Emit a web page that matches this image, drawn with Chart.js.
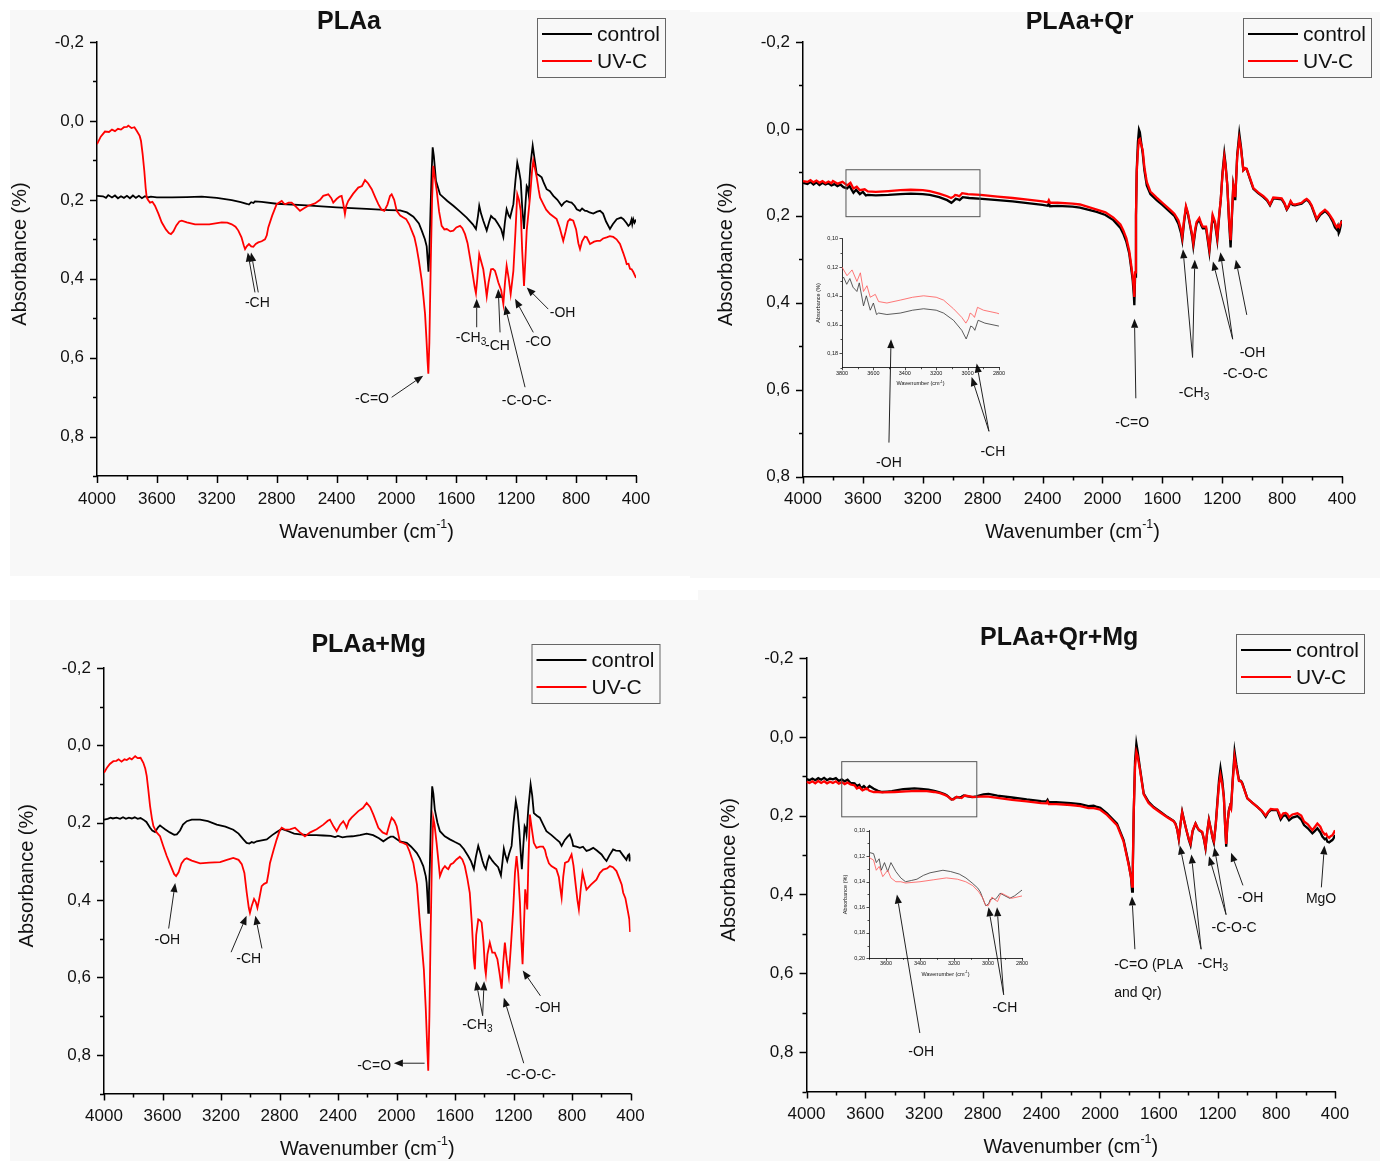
<!DOCTYPE html>
<html>
<head>
<meta charset="utf-8">
<script src="https://cdn.jsdelivr.net/npm/chart.js@4.4.1/dist/chart.umd.min.js"></script>
<style>
  html, body { margin: 0; padding: 0; background: #fff; }
  body { position: relative; width: 1380px; height: 1161px; overflow: hidden; }
  .panel { position: absolute; background: #f8f8f8; }
  canvas { position: absolute; }
</style>
</head>
<body>
<div class="panel" style="left:10px;top:10px;width:680px;height:566px"></div>
<div class="panel" style="left:690px;top:12px;width:690px;height:566px"></div>
<div class="panel" style="left:10px;top:600px;width:688px;height:561px"></div>
<div class="panel" style="left:698px;top:590px;width:682px;height:571px"></div>
<canvas id="c1"></canvas>
<canvas id="c2"></canvas>
<canvas id="c3"></canvas>
<canvas id="c4"></canvas>
<canvas id="i2"></canvas>
<canvas id="i4"></canvas>
<script>
// ---- spectra: [wavenumber (cm-1), absorbance] ----
const p1Control = [[4000,0.190],[3960,0.191],[3940,0.195],[3925,0.188],[3900,0.194],[3880,0.189],[3860,0.196],[3840,0.191],[3820,0.195],[3800,0.190],[3780,0.196],[3760,0.189],[3740,0.195],[3720,0.190],[3700,0.196],[3680,0.191],[3660,0.194],[3640,0.192],[3600,0.194],[3500,0.194],[3400,0.193],[3300,0.192],[3200,0.195],[3100,0.201],[3040,0.206],[3000,0.210],[2985,0.212],[2970,0.206],[2955,0.208],[2945,0.204],[2900,0.205],[2800,0.210],[2600,0.214],[2400,0.219],[2200,0.223],[2050,0.226],[1976,0.227],[1930,0.232],[1887,0.243],[1850,0.260],[1831,0.278],[1810,0.300],[1798,0.318],[1790,0.360],[1786,0.382],[1780,0.330],[1772,0.220],[1765,0.130],[1758,0.067],[1750,0.090],[1736,0.152],[1709,0.186],[1660,0.203],[1620,0.215],[1575,0.230],[1531,0.245],[1490,0.262],[1469,0.274],[1455,0.240],[1447,0.215],[1435,0.235],[1420,0.253],[1397,0.278],[1380,0.255],[1368,0.241],[1355,0.246],[1342,0.249],[1320,0.262],[1300,0.275],[1286,0.294],[1275,0.255],[1264,0.224],[1250,0.240],[1241,0.245],[1228,0.225],[1219,0.211],[1205,0.150],[1193,0.106],[1182,0.125],[1170,0.152],[1160,0.220],[1148,0.274],[1140,0.220],[1130,0.165],[1123,0.170],[1117,0.186],[1105,0.110],[1090,0.063],[1078,0.095],[1063,0.135],[1050,0.137],[1030,0.143],[1015,0.158],[997,0.173],[975,0.178],[952,0.190],[925,0.200],[897,0.215],[880,0.207],[863,0.203],[845,0.206],[830,0.207],[810,0.215],[796,0.224],[774,0.228],[760,0.222],[740,0.228],[729,0.228],[710,0.232],[685,0.235],[660,0.230],[640,0.228],[620,0.235],[600,0.255],[574,0.274],[555,0.262],[529,0.249],[500,0.245],[484,0.249],[465,0.258],[451,0.266],[440,0.262],[430,0.250],[425,0.262],[418,0.249],[410,0.258],[400,0.250]];
const p1Uvc = [[4000,0.059],[3975,0.040],[3947,0.027],[3920,0.028],[3900,0.022],[3880,0.026],[3860,0.020],[3840,0.022],[3820,0.016],[3800,0.015],[3791,0.012],[3770,0.018],[3750,0.016],[3735,0.025],[3715,0.038],[3706,0.051],[3695,0.085],[3684,0.127],[3675,0.170],[3668,0.194],[3660,0.200],[3646,0.207],[3630,0.205],[3613,0.215],[3590,0.235],[3568,0.257],[3540,0.275],[3520,0.284],[3506,0.287],[3490,0.280],[3470,0.265],[3450,0.255],[3434,0.253],[3400,0.257],[3345,0.262],[3250,0.262],[3167,0.257],[3130,0.258],[3100,0.262],[3075,0.268],[3056,0.278],[3035,0.295],[3020,0.315],[3011,0.325],[3000,0.318],[2985,0.312],[2970,0.318],[2956,0.319],[2940,0.312],[2923,0.308],[2900,0.305],[2878,0.300],[2866,0.290],[2856,0.270],[2830,0.240],[2800,0.211],[2766,0.203],[2750,0.210],[2740,0.211],[2720,0.207],[2700,0.207],[2670,0.218],[2644,0.228],[2620,0.222],[2589,0.215],[2544,0.209],[2510,0.200],[2489,0.190],[2455,0.186],[2435,0.196],[2422,0.207],[2400,0.198],[2380,0.192],[2366,0.190],[2355,0.210],[2344,0.236],[2335,0.215],[2322,0.203],[2290,0.185],[2255,0.169],[2230,0.165],[2210,0.150],[2190,0.158],[2165,0.173],[2140,0.195],[2121,0.211],[2100,0.225],[2081,0.228],[2060,0.212],[2043,0.190],[2032,0.186],[2015,0.200],[1998,0.228],[1975,0.240],[1954,0.245],[1935,0.249],[1915,0.262],[1898,0.278],[1880,0.295],[1865,0.321],[1850,0.355],[1831,0.405],[1820,0.445],[1809,0.489],[1800,0.550],[1792,0.610],[1787,0.641],[1780,0.560],[1771,0.363],[1762,0.200],[1754,0.114],[1745,0.140],[1731,0.177],[1715,0.230],[1698,0.266],[1680,0.275],[1664,0.274],[1640,0.280],[1620,0.278],[1600,0.270],[1575,0.266],[1560,0.272],[1542,0.287],[1525,0.310],[1509,0.346],[1490,0.390],[1478,0.420],[1469,0.437],[1460,0.400],[1447,0.338],[1435,0.355],[1420,0.376],[1408,0.410],[1397,0.445],[1385,0.410],[1368,0.376],[1355,0.375],[1342,0.380],[1330,0.395],[1320,0.409],[1300,0.430],[1286,0.464],[1275,0.410],[1264,0.367],[1250,0.400],[1237,0.439],[1228,0.410],[1219,0.380],[1205,0.280],[1193,0.186],[1182,0.200],[1170,0.228],[1160,0.330],[1148,0.418],[1140,0.360],[1130,0.278],[1120,0.240],[1108,0.194],[1095,0.130],[1086,0.101],[1075,0.120],[1063,0.143],[1050,0.175],[1041,0.194],[1019,0.211],[1000,0.225],[974,0.236],[950,0.243],[930,0.249],[910,0.270],[886,0.304],[870,0.280],[855,0.255],[841,0.249],[819,0.253],[800,0.275],[785,0.310],[774,0.325],[760,0.305],[742,0.293],[729,0.295],[707,0.312],[680,0.306],[660,0.304],[640,0.304],[620,0.298],[596,0.295],[575,0.292],[552,0.294],[530,0.300],[507,0.312],[485,0.335],[470,0.352],[462,0.363],[450,0.362],[440,0.375],[429,0.376],[418,0.383],[407,0.392],[400,0.398]];

const p2Control = [[4000,0.124],[3970,0.127],[3950,0.122],[3930,0.128],[3910,0.123],[3890,0.129],[3870,0.124],[3850,0.128],[3830,0.125],[3810,0.130],[3790,0.127],[3770,0.132],[3750,0.128],[3730,0.134],[3705,0.137],[3690,0.131],[3663,0.147],[3645,0.140],[3620,0.150],[3600,0.145],[3580,0.153],[3567,0.152],[3514,0.153],[3429,0.152],[3350,0.150],[3280,0.149],[3200,0.150],[3153,0.152],[3090,0.157],[3037,0.164],[3009,0.170],[2995,0.166],[2980,0.161],[2965,0.162],[2954,0.164],[2933,0.157],[2890,0.159],[2803,0.161],[2700,0.164],[2600,0.167],[2500,0.171],[2400,0.175],[2365,0.177],[2358,0.172],[2350,0.178],[2300,0.177],[2200,0.179],[2150,0.181],[2038,0.191],[1980,0.198],[1927,0.210],[1880,0.228],[1861,0.241],[1840,0.260],[1821,0.287],[1810,0.315],[1798,0.348],[1790,0.385],[1787,0.406],[1782,0.340],[1776,0.200],[1771,0.095],[1763,0.030],[1756,0.002],[1750,0.008],[1742,0.030],[1731,0.057],[1720,0.095],[1704,0.130],[1680,0.150],[1638,0.164],[1600,0.175],[1549,0.191],[1520,0.200],[1493,0.218],[1475,0.240],[1467,0.256],[1455,0.215],[1442,0.181],[1430,0.195],[1415,0.222],[1400,0.250],[1393,0.270],[1380,0.235],[1371,0.218],[1353,0.209],[1340,0.222],[1330,0.229],[1308,0.229],[1295,0.260],[1286,0.283],[1275,0.240],[1264,0.203],[1248,0.218],[1233,0.256],[1220,0.200],[1210,0.164],[1198,0.100],[1186,0.057],[1178,0.080],[1166,0.130],[1155,0.210],[1144,0.273],[1135,0.200],[1126,0.130],[1119,0.145],[1113,0.164],[1100,0.060],[1086,0.011],[1075,0.040],[1059,0.095],[1048,0.092],[1037,0.092],[1015,0.115],[992,0.138],[960,0.148],[925,0.157],[900,0.165],[881,0.176],[870,0.168],[859,0.160],[830,0.161],[803,0.162],[785,0.172],[769,0.186],[755,0.178],[743,0.168],[730,0.175],[714,0.176],[690,0.174],[670,0.172],[650,0.166],[636,0.163],[620,0.168],[603,0.178],[585,0.195],[569,0.210],[545,0.198],[514,0.189],[495,0.195],[480,0.202],[460,0.215],[447,0.227],[435,0.232],[428,0.225],[422,0.240],[418,0.237],[410,0.225],[405,0.215],[400,0.210]];
const p2Uvc = [[4000,0.120],[3970,0.122],[3950,0.118],[3930,0.123],[3910,0.119],[3890,0.124],[3870,0.120],[3850,0.125],[3830,0.121],[3810,0.125],[3800,0.120],[3768,0.126],[3736,0.122],[3705,0.130],[3683,0.124],[3663,0.137],[3641,0.133],[3620,0.141],[3588,0.139],[3567,0.144],[3514,0.145],[3429,0.143],[3350,0.141],[3280,0.140],[3200,0.141],[3153,0.143],[3090,0.149],[3037,0.155],[3011,0.159],[2995,0.156],[2984,0.152],[2970,0.153],[2956,0.155],[2937,0.148],[2899,0.150],[2814,0.152],[2700,0.156],[2600,0.159],[2500,0.163],[2400,0.167],[2365,0.169],[2358,0.164],[2350,0.170],[2300,0.170],[2200,0.172],[2150,0.174],[2038,0.186],[1980,0.192],[1927,0.204],[1880,0.220],[1861,0.233],[1840,0.252],[1821,0.281],[1810,0.308],[1798,0.340],[1790,0.370],[1787,0.387],[1782,0.330],[1776,0.200],[1771,0.100],[1763,0.050],[1756,0.025],[1750,0.023],[1742,0.035],[1731,0.049],[1720,0.088],[1704,0.122],[1680,0.144],[1638,0.158],[1600,0.170],[1549,0.186],[1520,0.195],[1493,0.210],[1475,0.232],[1467,0.249],[1455,0.210],[1442,0.178],[1430,0.192],[1415,0.218],[1400,0.245],[1393,0.263],[1380,0.230],[1371,0.214],[1353,0.205],[1340,0.218],[1330,0.225],[1308,0.225],[1295,0.255],[1286,0.276],[1275,0.235],[1264,0.198],[1248,0.214],[1233,0.250],[1220,0.196],[1210,0.164],[1198,0.105],[1186,0.065],[1178,0.085],[1166,0.130],[1155,0.205],[1144,0.256],[1135,0.195],[1126,0.130],[1119,0.143],[1113,0.157],[1100,0.065],[1086,0.023],[1075,0.045],[1059,0.095],[1048,0.090],[1037,0.092],[1015,0.113],[992,0.136],[960,0.146],[925,0.155],[900,0.163],[881,0.174],[870,0.166],[859,0.158],[830,0.159],[803,0.160],[785,0.170],[769,0.184],[755,0.176],[743,0.166],[730,0.173],[714,0.174],[690,0.172],[670,0.170],[650,0.164],[636,0.161],[620,0.166],[603,0.176],[585,0.192],[569,0.207],[545,0.195],[514,0.186],[495,0.192],[480,0.199],[460,0.210],[447,0.220],[435,0.226],[428,0.222],[418,0.226],[410,0.218],[400,0.212]];

const p3Control = [[4000,0.192],[3975,0.190],[3955,0.187],[3940,0.189],[3914,0.187],[3890,0.190],[3870,0.186],[3850,0.190],[3830,0.187],[3810,0.189],[3790,0.186],[3770,0.190],[3750,0.188],[3731,0.192],[3710,0.198],[3685,0.213],[3670,0.220],[3651,0.224],[3630,0.212],[3617,0.207],[3600,0.212],[3583,0.217],[3550,0.225],[3520,0.231],[3502,0.230],[3480,0.220],[3460,0.205],[3434,0.196],[3400,0.192],[3343,0.192],[3290,0.196],[3229,0.205],[3170,0.210],[3116,0.218],[3080,0.228],[3047,0.243],[3025,0.252],[3006,0.254],[2990,0.250],[2975,0.252],[2956,0.248],[2930,0.246],[2887,0.243],[2850,0.232],[2819,0.224],[2785,0.216],[2740,0.222],[2700,0.228],[2660,0.230],[2600,0.232],[2550,0.232],[2500,0.233],[2450,0.234],[2420,0.237],[2400,0.234],[2370,0.238],[2340,0.236],[2300,0.235],[2250,0.232],[2204,0.228],[2160,0.232],[2120,0.240],[2090,0.248],[2060,0.240],[2040,0.236],[2022,0.236],[2000,0.242],[1976,0.248],[1930,0.252],[1900,0.262],[1862,0.278],[1840,0.292],[1817,0.312],[1800,0.338],[1794,0.355],[1787,0.400],[1783,0.433],[1778,0.380],[1772,0.312],[1765,0.200],[1756,0.106],[1748,0.125],[1738,0.166],[1720,0.200],[1703,0.222],[1670,0.235],[1635,0.243],[1600,0.250],[1567,0.256],[1540,0.268],[1510,0.286],[1490,0.300],[1471,0.320],[1458,0.290],[1441,0.260],[1425,0.280],[1412,0.299],[1400,0.312],[1389,0.320],[1378,0.300],[1366,0.286],[1345,0.298],[1328,0.306],[1305,0.315],[1286,0.336],[1275,0.300],[1266,0.267],[1255,0.285],[1243,0.299],[1230,0.280],[1213,0.260],[1200,0.200],[1184,0.144],[1172,0.170],[1161,0.218],[1152,0.270],[1143,0.320],[1133,0.260],[1124,0.209],[1117,0.215],[1111,0.230],[1098,0.160],[1083,0.101],[1072,0.130],[1061,0.175],[1040,0.182],[1020,0.187],[997,0.205],[975,0.222],[940,0.232],[907,0.243],[885,0.250],[871,0.260],[850,0.245],[830,0.236],[815,0.230],[800,0.245],[792,0.260],[770,0.262],[746,0.265],[725,0.262],[701,0.273],[680,0.270],[655,0.265],[630,0.272],[598,0.282],[580,0.292],[564,0.299],[545,0.285],[519,0.269],[500,0.272],[473,0.273],[450,0.285],[428,0.296],[418,0.285],[410,0.282],[405,0.300],[400,0.288]];
const p3Uvc = [[4000,0.071],[3980,0.058],[3960,0.048],[3936,0.041],[3915,0.040],[3900,0.036],[3880,0.042],[3860,0.036],[3844,0.038],[3825,0.033],[3810,0.036],[3787,0.028],[3770,0.033],[3750,0.032],[3731,0.045],[3718,0.060],[3708,0.079],[3697,0.115],[3685,0.157],[3672,0.190],[3662,0.209],[3640,0.225],[3617,0.235],[3595,0.260],[3571,0.286],[3540,0.315],[3520,0.333],[3507,0.338],[3490,0.328],[3470,0.305],[3450,0.295],[3434,0.292],[3400,0.298],[3343,0.305],[3280,0.303],[3206,0.302],[3160,0.296],[3116,0.291],[3080,0.296],[3058,0.307],[3040,0.330],[3024,0.381],[3010,0.420],[3002,0.433],[2990,0.415],[2974,0.397],[2962,0.405],[2951,0.420],[2940,0.400],[2922,0.364],[2905,0.358],[2887,0.355],[2875,0.330],[2865,0.304],[2840,0.270],[2819,0.243],[2800,0.222],[2785,0.213],[2760,0.218],[2728,0.217],[2694,0.213],[2660,0.225],[2626,0.235],[2590,0.225],[2546,0.217],[2500,0.205],[2470,0.195],[2455,0.192],[2430,0.210],[2409,0.222],[2385,0.205],[2364,0.196],[2350,0.205],[2341,0.213],[2325,0.195],[2307,0.187],[2261,0.170],[2230,0.162],[2204,0.149],[2180,0.160],[2158,0.179],[2124,0.213],[2095,0.225],[2067,0.230],[2045,0.200],[2033,0.187],[2015,0.195],[1999,0.209],[1976,0.250],[1955,0.252],[1930,0.257],[1910,0.275],[1885,0.304],[1860,0.360],[1840,0.458],[1813,0.579],[1800,0.680],[1790,0.780],[1783,0.841],[1775,0.700],[1767,0.493],[1757,0.280],[1749,0.187],[1740,0.205],[1726,0.252],[1703,0.338],[1685,0.320],[1669,0.312],[1655,0.318],[1646,0.320],[1630,0.308],[1612,0.304],[1590,0.295],[1567,0.288],[1550,0.295],[1533,0.312],[1515,0.345],[1499,0.381],[1485,0.460],[1472,0.550],[1464,0.579],[1455,0.490],[1441,0.450],[1430,0.452],[1418,0.458],[1405,0.510],[1395,0.575],[1389,0.592],[1378,0.540],[1362,0.510],[1345,0.536],[1328,0.536],[1310,0.553],[1295,0.590],[1281,0.629],[1270,0.560],[1259,0.510],[1245,0.560],[1232,0.596],[1218,0.520],[1202,0.424],[1190,0.330],[1179,0.286],[1168,0.330],[1156,0.407],[1147,0.500],[1138,0.566],[1128,0.460],[1120,0.372],[1113,0.395],[1106,0.424],[1098,0.300],[1088,0.179],[1075,0.215],[1061,0.252],[1043,0.265],[1020,0.262],[998,0.262],[985,0.270],[975,0.286],[958,0.305],[941,0.312],[907,0.320],[890,0.340],[880,0.370],[871,0.394],[860,0.340],[848,0.304],[825,0.300],[803,0.282],[790,0.310],[774,0.364],[763,0.400],[753,0.424],[740,0.370],[728,0.329],[715,0.350],[701,0.373],[670,0.360],[633,0.347],[610,0.330],[587,0.321],[560,0.318],[541,0.312],[520,0.315],[496,0.325],[475,0.345],[460,0.360],[450,0.381],[435,0.395],[416,0.433],[408,0.450],[403,0.480],[400,0.476]];

const p4Control = [[4000,0.107],[3980,0.110],[3960,0.106],[3940,0.110],[3920,0.105],[3900,0.109],[3880,0.104],[3860,0.110],[3840,0.106],[3820,0.108],[3800,0.105],[3780,0.112],[3760,0.108],[3740,0.113],[3720,0.109],[3700,0.117],[3673,0.118],[3657,0.125],[3640,0.122],[3628,0.131],[3609,0.125],[3590,0.132],[3571,0.125],[3542,0.132],[3513,0.137],[3485,0.140],[3450,0.139],[3418,0.138],[3380,0.135],[3341,0.133],[3265,0.131],[3220,0.132],[3169,0.134],[3130,0.137],[3093,0.141],[3060,0.145],[3045,0.148],[3025,0.155],[3012,0.159],[2995,0.157],[2987,0.154],[2970,0.153],[2958,0.154],[2945,0.152],[2929,0.149],[2901,0.151],[2872,0.153],[2843,0.151],[2795,0.146],[2760,0.145],[2700,0.149],[2600,0.154],[2500,0.159],[2402,0.163],[2365,0.164],[2358,0.160],[2350,0.166],[2300,0.166],[2200,0.168],[2135,0.171],[2080,0.176],[2044,0.175],[2020,0.178],[1999,0.180],[1953,0.194],[1885,0.220],[1840,0.262],[1806,0.321],[1790,0.355],[1782,0.393],[1777,0.330],[1771,0.194],[1762,0.060],[1753,0.017],[1745,0.035],[1730,0.076],[1703,0.144],[1670,0.165],[1635,0.178],[1590,0.190],[1543,0.203],[1500,0.213],[1487,0.220],[1475,0.235],[1464,0.260],[1452,0.220],[1441,0.190],[1428,0.212],[1412,0.237],[1395,0.262],[1384,0.275],[1370,0.240],[1350,0.220],[1338,0.230],[1327,0.237],[1305,0.242],[1292,0.262],[1282,0.283],[1270,0.240],[1259,0.210],[1244,0.237],[1232,0.260],[1225,0.269],[1212,0.220],[1202,0.169],[1190,0.110],[1180,0.080],[1168,0.110],[1157,0.152],[1148,0.230],[1141,0.279],[1133,0.220],[1123,0.186],[1115,0.175],[1108,0.180],[1097,0.110],[1084,0.038],[1072,0.070],[1054,0.110],[1040,0.112],[1031,0.118],[997,0.156],[960,0.168],[929,0.178],[900,0.188],[872,0.203],[855,0.192],[838,0.186],[815,0.186],[793,0.186],[780,0.200],[770,0.210],[752,0.200],[736,0.199],[725,0.205],[713,0.212],[690,0.205],[656,0.201],[630,0.210],[611,0.224],[585,0.232],[554,0.245],[540,0.240],[520,0.232],[500,0.242],[486,0.253],[470,0.260],[460,0.258],[452,0.266],[440,0.268],[430,0.265],[418,0.262],[410,0.258],[400,0.249]];
const p4Uvc = [[4000,0.114],[3980,0.117],[3960,0.113],[3940,0.118],[3920,0.112],[3900,0.117],[3880,0.113],[3860,0.118],[3840,0.114],[3820,0.117],[3800,0.113],[3780,0.119],[3760,0.115],[3740,0.120],[3720,0.116],[3700,0.121],[3673,0.123],[3657,0.131],[3640,0.128],[3619,0.136],[3590,0.131],[3571,0.137],[3542,0.140],[3513,0.140],[3485,0.141],[3400,0.140],[3322,0.1385],[3245,0.137],[3180,0.138],[3131,0.140],[3090,0.143],[3054,0.148],[3030,0.153],[3016,0.158],[3000,0.159],[2985,0.155],[2977,0.152],[2960,0.154],[2944,0.1555],[2930,0.151],[2920,0.149],[2862,0.153],[2795,0.151],[2760,0.152],[2700,0.155],[2600,0.160],[2500,0.164],[2402,0.168],[2365,0.169],[2358,0.165],[2350,0.171],[2300,0.171],[2200,0.173],[2135,0.176],[2080,0.181],[2044,0.181],[2020,0.183],[1999,0.185],[1953,0.198],[1885,0.224],[1840,0.266],[1806,0.324],[1790,0.355],[1782,0.380],[1777,0.320],[1771,0.190],[1762,0.075],[1753,0.038],[1745,0.048],[1730,0.080],[1703,0.146],[1670,0.168],[1635,0.180],[1590,0.192],[1543,0.204],[1500,0.214],[1487,0.221],[1475,0.235],[1464,0.258],[1452,0.220],[1441,0.192],[1428,0.213],[1412,0.237],[1395,0.260],[1384,0.271],[1370,0.238],[1350,0.220],[1338,0.229],[1327,0.236],[1305,0.241],[1292,0.260],[1282,0.280],[1270,0.240],[1259,0.212],[1244,0.237],[1232,0.258],[1225,0.265],[1212,0.222],[1202,0.175],[1190,0.120],[1180,0.097],[1168,0.120],[1157,0.155],[1148,0.228],[1141,0.272],[1133,0.220],[1123,0.188],[1115,0.176],[1108,0.182],[1097,0.115],[1084,0.051],[1072,0.078],[1054,0.112],[1040,0.113],[1031,0.120],[997,0.156],[960,0.168],[929,0.178],[900,0.187],[872,0.200],[855,0.190],[838,0.183],[815,0.184],[793,0.184],[780,0.194],[770,0.204],[752,0.194],[736,0.193],[725,0.196],[713,0.204],[690,0.197],[656,0.194],[630,0.200],[611,0.215],[585,0.222],[554,0.237],[540,0.230],[520,0.220],[500,0.228],[486,0.240],[470,0.248],[460,0.246],[452,0.253],[440,0.256],[430,0.252],[418,0.250],[410,0.245],[400,0.237]];

const legendLabels = ['control', 'UV-C'];
const panelTitles = ['PLAa', 'PLAa+Qr', 'PLAa+Mg', 'PLAa+Qr+Mg'];

// band labels: text, anchor (wavenumber, absorbance), arrows [from wn, from abs, to wn, to abs]
const notesP1 = [
  {text: '-CH', x: 2929, y: 0.4625, arrows: [[2945, 0.4347, 2993, 0.3334], [2923, 0.4347, 2971, 0.3334]]},
  {text: '-C=O', x: 2163, y: 0.706, arrows: [[2032, 0.7005, 1821, 0.6456]]},
  {text: '-CH', sub: '3', x: 1502, y: 0.5501, arrows: [[1464, 0.523, 1464, 0.451]]},
  {text: '-CH', x: 1325, y: 0.570, arrows: [[1308, 0.536, 1320, 0.426]]},
  {text: '-CO', x: 1053, y: 0.561, arrows: [[1086, 0.536, 1208, 0.451]]},
  {text: '-OH', x: 890, y: 0.488, arrows: [[986, 0.477, 1130, 0.422]]},
  {text: '-C-O-C-', x: 1130, y: 0.709, arrows: [[1141, 0.675, 1275, 0.468]]}
];
const notesP2 = [
  {text: '-OH', x: 3426, y: 0.769, arrows: [[3426, 0.722, 3412, 0.484]]},
  {text: '-CH', x: 2732, y: 0.745, arrows: [[2758, 0.696, 2874, 0.571], [2758, 0.696, 2840, 0.540]]},
  {text: '-C=O', x: 1801, y: 0.678, arrows: [[1777, 0.620, 1786, 0.437]]},
  {text: '-CH', sub: '3', x: 1388, y: 0.607, arrows: [[1398, 0.526, 1462, 0.277], [1398, 0.526, 1383, 0.301]]},
  {text: '-C-O-C', x: 1045, y: 0.564, arrows: [[1130, 0.484, 1262, 0.305], [1130, 0.484, 1212, 0.284]]},
  {text: '-OH', x: 998, y: 0.515, arrows: [[1036, 0.428, 1109, 0.301]]}
];
const notesP3 = [
  {text: '-OH', x: 3567, y: 0.5045, arrows: [[3558, 0.4735, 3513, 0.356]]},
  {text: '-CH', x: 3010, y: 0.5515, arrows: [[3131, 0.5347, 3025, 0.4405], [2920, 0.525, 2965, 0.4405]]},
  {text: '-C=O', x: 2153, y: 0.828, arrows: [[1808, 0.8217, 2018, 0.8217]]},
  {text: '-CH', sub: '3', x: 1447, y: 0.723, arrows: [[1411, 0.699, 1456, 0.610], [1411, 0.699, 1401, 0.610]]},
  {text: '-C-O-C-', x: 1080, y: 0.8527, arrows: [[1130, 0.8217, 1266, 0.6525]]},
  {text: '-OH', x: 965, y: 0.680, arrows: [[1016, 0.6475, 1137, 0.5817]]}
];
const notesP4 = [
  {text: '-OH', x: 3219, y: 0.800, arrows: [[3228, 0.7516, 3384, 0.4003]]},
  {text: '-CH', x: 2649, y: 0.6897, arrows: [[2657, 0.6545, 2760, 0.4327], [2657, 0.6545, 2702, 0.4327]]},
  {text: '-C=O (PLA', x: 1904, y: 0.5805, align: 'left', arrows: [[1763, 0.539, 1783, 0.405]]},
  {text: 'and Qr)', x: 1904, y: 0.650, align: 'left'},
  {text: '-CH', sub: '3', x: 1232, y: 0.576, arrows: [[1312, 0.539, 1457, 0.2755], [1312, 0.539, 1378, 0.2986]]},
  {text: '-C-O-C', x: 1087, y: 0.486, arrows: [[1142, 0.4512, 1258, 0.3032], [1142, 0.4512, 1222, 0.280]]},
  {text: '-OH', x: 976, y: 0.4096, arrows: [[1027, 0.377, 1108, 0.294]]},
  {text: 'MgO', x: 495, y: 0.4125, arrows: [[493, 0.382, 472, 0.2755]]}
];

// zoomed regions shown in the insets
const zoomBoxP2 = {x0: 3713, x1: 2818, y0: 0.094, y1: 0.202};
const zoomBoxP4 = {x0: 3760, x1: 2840, y0: 0.063, y1: 0.203};

const FONT = "'Liberation Sans', Arial, sans-serif";

function drawText(ctx, t, x, y, size, align) {
  const segs = [{s: t.text, k: 1, dy: 0}];
  if (t.sub) segs.push({s: t.sub, k: 0.72, dy: size * 0.32});
  if (t.sup) segs.push({s: t.sup, k: 0.62, dy: -size * 0.38});
  if (t.tail) segs.push({s: t.tail, k: 1, dy: 0});
  let w = 0;
  segs.forEach(g => { ctx.font = (size * g.k) + 'px ' + FONT; g.w = ctx.measureText(g.s).width; w += g.w; });
  let cx = align === 'left' ? x : x - w / 2;
  ctx.textAlign = 'left';
  ctx.textBaseline = 'middle';
  segs.forEach(g => { ctx.font = (size * g.k) + 'px ' + FONT; ctx.fillText(g.s, cx, y + g.dy); cx += g.w; });
}

function drawArrow(ctx, x0, y0, x1, y1) {
  const a = Math.atan2(y1 - y0, x1 - x0), hl = 9, hw = 3.6;
  const bx = x1 - hl * Math.cos(a), by = y1 - hl * Math.sin(a);
  ctx.beginPath(); ctx.moveTo(x0, y0); ctx.lineTo(bx, by); ctx.stroke();
  ctx.beginPath();
  ctx.moveTo(x1, y1);
  ctx.lineTo(bx + hw * Math.sin(a), by - hw * Math.cos(a));
  ctx.lineTo(bx - hw * Math.sin(a), by + hw * Math.cos(a));
  ctx.closePath(); ctx.fill();
}

function makeDecor(s) {
  return {
    id: 'decor',
    afterDraw(chart) {
      const ctx = chart.ctx, a = chart.chartArea, xs = chart.scales.x, ys = chart.scales.y;
      ctx.save();
      // major / minor tick marks, pointing out
      ctx.strokeStyle = '#000'; ctx.lineWidth = s.tickW;
      xs.ticks.forEach(t => {
        const len = Math.round(t.value) % s.xLabel === 0 ? s.tickMajor : s.tickMinor;
        const px = Math.round(xs.getPixelForValue(t.value)) + 0.5;
        ctx.beginPath(); ctx.moveTo(px, a.bottom); ctx.lineTo(px, a.bottom + len); ctx.stroke();
      });
      ys.ticks.forEach(t => {
        const len = Math.round(t.value / s.yStep) % s.yEvery === 0 ? s.tickMajor : s.tickMinor;
        const py = Math.round(ys.getPixelForValue(t.value)) + 0.5;
        ctx.beginPath(); ctx.moveTo(a.left, py); ctx.lineTo(a.left - len, py); ctx.stroke();
      });
      // axis titles
      ctx.fillStyle = '#111';
      ctx.save();
      ctx.translate(a.left - s.yTitleOff, (a.top + a.bottom) / 2 + s.yTitleDy);
      ctx.rotate(-Math.PI / 2);
      ctx.font = s.axisFont + 'px ' + FONT;
      ctx.textAlign = 'center'; ctx.textBaseline = 'middle';
      ctx.fillText('Absorbance (%)', 0, 0);
      ctx.restore();
      drawText(ctx, {text: 'Wavenumber (cm', sup: '-1', tail: ')'}, (a.left + a.right) / 2, a.bottom + s.xTitleOff, s.axisFont);
      // title
      if (s.title) {
        ctx.font = 'bold 25px ' + FONT;
        ctx.textAlign = 'center'; ctx.textBaseline = 'middle';
        ctx.fillText(s.title, xs.getPixelForValue(s.titleWn), a.top + s.titleDy);
      }
      // legend box
      if (s.legend) {
        const bl = a.right - 99, bt = a.top - 24;
        ctx.strokeStyle = '#666'; ctx.lineWidth = 1;
        ctx.strokeRect(bl + 0.5, bt + 0.5, 128, 59);
        s.series.forEach((se, i) => {
          const ly = bt + 16 + i * 27;
          ctx.strokeStyle = se.color; ctx.lineWidth = 2;
          ctx.beginPath(); ctx.moveTo(bl + 5, ly); ctx.lineTo(bl + 55, ly); ctx.stroke();
          ctx.fillStyle = '#111';
          ctx.font = '21px ' + FONT; ctx.textAlign = 'left'; ctx.textBaseline = 'middle';
          ctx.fillText(legendLabels[i], bl + 60, ly + 1);
        });
      }
      // zoom rectangle
      if (s.box) {
        const x0 = xs.getPixelForValue(s.box.x0), x1 = xs.getPixelForValue(s.box.x1);
        const y0 = ys.getPixelForValue(s.box.y0), y1 = ys.getPixelForValue(s.box.y1);
        ctx.strokeStyle = '#555'; ctx.lineWidth = 1;
        ctx.strokeRect(x0, y0, x1 - x0, y1 - y0);
      }
      // band labels and arrows
      if (s.notes) {
        ctx.strokeStyle = '#222'; ctx.fillStyle = '#111'; ctx.lineWidth = 1;
        s.notes.forEach(n => {
          (n.arrows || []).forEach(r => drawArrow(ctx,
            xs.getPixelForValue(r[0]), ys.getPixelForValue(r[1]),
            xs.getPixelForValue(r[2]), ys.getPixelForValue(r[3])));
          drawText(ctx, n, xs.getPixelForValue(n.x), ys.getPixelForValue(n.y), s.noteFont, n.align);
        });
      }
      ctx.restore();
    }
  };
}

function buildChart(id, s) {
  const cv = document.getElementById(id);
  cv.width = s.rect.w; cv.height = s.rect.h;
  cv.style.left = s.rect.l + 'px'; cv.style.top = s.rect.t + 'px';
  cv.style.width = s.rect.w + 'px'; cv.style.height = s.rect.h + 'px';
  const pad = {
    left: s.area.l - s.rect.l - s.yw,
    right: s.rect.l + s.rect.w - s.area.r,
    top: s.area.t - s.rect.t,
    bottom: s.rect.t + s.rect.h - s.area.b - s.xh
  };
  return new Chart(cv, {
    type: 'line',
    data: {
      datasets: s.series.map((se, i) => ({
        label: legendLabels[i],
        data: se.pts.map(p => ({x: p[0], y: p[1]})),
        borderColor: se.color,
        borderWidth: s.lineWidth,
        pointRadius: 0,
        tension: 0,
        fill: false,
        order: 2 - i
      }))
    },
    options: {
      responsive: false,
      animation: false,
      devicePixelRatio: 1,
      layout: {padding: pad},
      plugins: {legend: {display: false}, title: {display: false}, tooltip: {enabled: false}},
      scales: {
        x: {
          type: 'linear', reverse: true, min: s.xMin, max: s.xMax,
          afterFit: sc => { sc.height = s.xh; },
          border: {display: true, color: '#000', width: s.axisWidth},
          grid: {display: true, drawOnChartArea: false, drawTicks: false},
          ticks: {
            stepSize: s.xStep, autoSkip: false, maxRotation: 0, minRotation: 0,
            padding: s.tickPadX, color: '#111', font: {family: FONT, size: s.tickFont},
            callback: v => Math.round(v) % s.xLabel === 0 ? String(Math.round(v)) : ''
          }
        },
        y: {
          type: 'linear', reverse: true, min: s.yMin, max: s.yMax,
          afterFit: sc => { sc.width = s.yw; },
          border: {display: true, color: '#000', width: s.axisWidth},
          grid: {display: true, drawOnChartArea: false, drawTicks: false},
          ticks: {
            stepSize: s.yStep, autoSkip: false,
            padding: s.tickPadY, color: '#111', font: {family: FONT, size: s.tickFont},
            callback: v => {
              const n = Math.round(v / s.yStep);
              return n % s.yEvery === 0 ? (n * s.yStep).toFixed(s.yDec).replace('.', ',') : '';
            }
          }
        }
      }
    },
    plugins: [makeDecor(s)]
  });
}

const MAIN = {
  yw: 60, xh: 60, tickFont: 17, tickPadX: 13, tickPadY: 13, axisFont: 20,
  axisWidth: 1.5, tickW: 1.5, tickMajor: 7, tickMinor: 4,
  yTitleOff: 77, yTitleDy: -5, xTitleOff: 56, noteFont: 14,
  xMin: 400, xMax: 4000, xStep: 200, xLabel: 400,
  yMin: -0.2, yStep: 0.1, yEvery: 2, yDec: 1, titleDy: -20, legend: true
};
const INSET = {
  yw: 25, xh: 20, tickFont: 5.5, tickPadX: 2, tickPadY: 4, axisFont: 5.5,
  axisWidth: 0.8, tickW: 0.7, tickMajor: 2.5, tickMinor: 1.5,
  yTitleOff: 24, yTitleDy: 0, xTitleOff: 16, lineWidth: 0.8,
  xStep: 100, xLabel: 200, yMin: 0.10, yStep: 0.01, yEvery: 2, yDec: 2
};

buildChart('c1', Object.assign({}, MAIN, {
  rect: {l: 10, t: 10, w: 680, h: 566}, area: {l: 97, r: 636, t: 42, b: 476},
  yMax: 0.9, lineWidth: 1.8, title: panelTitles[0], titleWn: 2317,
  series: [{pts: p1Control, color: '#000000'}, {pts: p1Uvc, color: '#ff0000'}],
  notes: notesP1
}));
buildChart('c2', Object.assign({}, MAIN, {
  rect: {l: 690, t: 12, w: 690, h: 566}, area: {l: 803, r: 1342, t: 42, b: 476.5},
  yMax: 0.8, lineWidth: 2.3, title: panelTitles[1], titleWn: 2153,
  series: [{pts: p2Control, color: '#000000'}, {pts: p2Uvc, color: '#ff0000'}],
  notes: notesP2, box: zoomBoxP2
}));
buildChart('c3', Object.assign({}, MAIN, {
  rect: {l: 10, t: 600, w: 688, h: 561}, area: {l: 104, r: 630.5, t: 668, b: 1093.5},
  yMax: 0.9, lineWidth: 1.8, title: panelTitles[2], titleWn: 2190, titleDy: -23,
  series: [{pts: p3Control, color: '#000000'}, {pts: p3Uvc, color: '#ff0000'}],
  notes: notesP3
}));
buildChart('c4', Object.assign({}, MAIN, {
  rect: {l: 698, t: 590, w: 682, h: 571}, area: {l: 806.5, r: 1335, t: 658, b: 1091.5},
  yMax: 0.9, lineWidth: 2.3, title: panelTitles[3], titleWn: 2279,
  series: [{pts: p4Control, color: '#000000'}, {pts: p4Uvc, color: '#ff0000'}],
  notes: notesP4, box: zoomBoxP4
}));
buildChart('i2', Object.assign({}, INSET, {
  rect: {l: 800, t: 228, w: 210, h: 165}, area: {l: 842, r: 999, t: 238.3, b: 367.7},
  xMin: 2800, xMax: 3800, yMax: 0.19,
  series: [{pts: p2Control, color: '#333333'}, {pts: p2Uvc, color: '#ff5555'}]
}));
buildChart('i4', Object.assign({}, INSET, {
  rect: {l: 828, t: 820, w: 205, h: 170}, area: {l: 869, r: 1022, t: 830.7, b: 958.3},
  xMin: 2800, xMax: 3700, yMax: 0.20,
  series: [{pts: p4Control, color: '#333333'}, {pts: p4Uvc, color: '#ff5555'}]
}));
</script>
</body>
</html>
